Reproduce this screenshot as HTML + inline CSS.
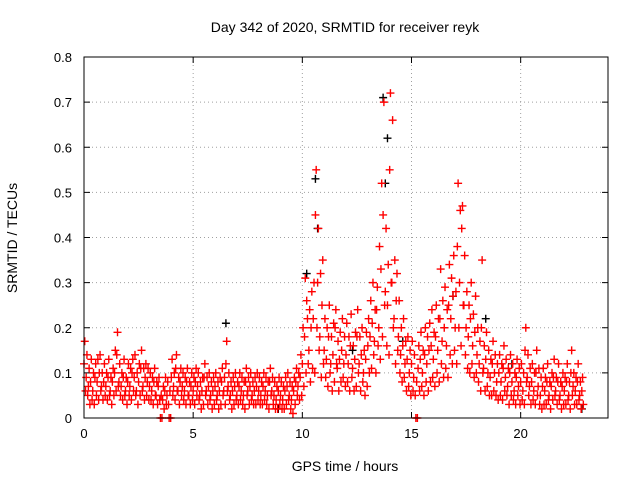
<!DOCTYPE html>
<html><head><meta charset="utf-8"><style>
body{margin:0;background:#fff}
svg{display:block;font-family:"Liberation Sans",sans-serif}
</style></head><body>
<svg id="chart" width="640" height="480">
<text x="345" y="32" font-size="14" text-anchor="middle">Day 342 of 2020, SRMTID for receiver reyk</text>
<text x="345" y="471" font-size="14" text-anchor="middle">GPS time / hours</text>
<text x="17" y="238" font-size="14" text-anchor="middle" transform="rotate(-90 17 238)">SRMTID / TECUs</text>
<g id="grid"></g>
<g id="ticks"></g>
<g id="black"></g>
<g id="red"></g>
<rect x="84" y="57" width="524" height="361" fill="none" stroke="#000" stroke-width="1"/>
</svg>
<script>
const xTicks=[0,5,10,15,20];
const yTicks=[0,0.1,0.2,0.3,0.4,0.5,0.6,0.7,0.8];
const yTickLabels=["0","0.1","0.2","0.3","0.4","0.5","0.6","0.7","0.8"];
const step=0.1;
const redMid=[.12,.09,.07,.08,.06,.09,.08,.10,.07,.08,
.07,.09,.06,.08,.10,.14,.08,.07,.09,.06,
.08,.07,.10,.09,.06,.08,.11,.07,.09,.08,
.07,.06,.08,.05,.07,0,.04,.06,.05,0,
.09,.07,.11,.06,.08,.07,.06,.08,.05,.07,
.06,.08,.07,.05,.06,.09,.06,.07,.05,.06,
.07,.05,.06,.08,.06,.12,.07,.05,.06,.07,
.05,.07,.06,.05,.08,.06,.07,.05,.06,.07,
.06,.05,.07,.06,.05,.08,.06,.05,.04,.06,
.05,.04,.06,.07,.05,.04,.06,.08,.07,.09,
.12,.18,.26,.15,.20,.22,.45,.30,.18,.25,
.15,.13,.18,.12,.14,.20,.11,.13,.15,.12,
.14,.12,.16,.11,.13,.18,.12,.14,.10,.13,
.16,.18,.21,.17,.24,.20,.33,.45,.28,.25,
.55,.30,.22,.26,.18,.14,.16,.12,.13,.10,
.12,.09,0,.11,.13,.10,.14,.12,.15,.16,
.13,.18,.15,.22,.17,.20,.16,.25,.22,.27,
.20,.38,.30,.42,.25,.20,.18,.22,.16,.19,
.14,.12,.20,.11,.13,.10,.09,.12,.10,.08,
.10,.08,.11,.09,.07,.10,.08,.06,.09,.07,
.08,.06,.15,.09,.07,.08,.06,.10,.07,.05,
.07,.06,.08,.05,.07,.09,.06,.08,.05,.07,
.06,.08,.05,.10,.07,.06,.08,.05,.06];
const redHigh=[.17,.14,.11,.13,.10,.12,.13,.14,.10,.12,
.10,.13,.09,.11,.15,.19,.12,.10,.13,.09,
.12,.11,.13,.14,.10,.12,.15,.11,.12,.11,
.10,.09,.11,.08,.09,.05,.07,.09,.08,.06,
.13,.10,.14,.09,.11,.10,.09,.11,.08,.10,
.09,.11,.10,.08,.09,.12,.09,.10,.08,.09,
.10,.08,.09,.11,.09,.17,.10,.08,.09,.10,
.08,.10,.09,.08,.11,.09,.10,.08,.09,.10,
.09,.08,.10,.09,.08,.11,.09,.08,.07,.09,
.08,.07,.09,.10,.08,.07,.09,.11,.10,.14,
.20,.31,.22,.24,.28,.30,.55,.42,.32,.35,
.22,.20,.25,.18,.21,.24,.17,.19,.22,.18,
.21,.18,.23,.16,.19,.24,.18,.20,.15,.19,
.22,.26,.30,.24,.29,.38,.52,.70,.42,.34,
.72,.66,.35,.32,.26,.20,.22,.17,.18,.15,
.17,.14,.08,.16,.19,.15,.20,.18,.21,.24,
.19,.25,.22,.33,.26,.29,.24,.34,.31,.36,
.28,.52,.46,.47,.36,.28,.25,.30,.23,.27,
.20,.17,.35,.16,.19,.15,.13,.17,.14,.12,
.14,.12,.16,.13,.11,.14,.12,.10,.13,.11,
.12,.10,.20,.14,.11,.12,.10,.15,.11,.09,
.11,.09,.12,.08,.10,.13,.09,.12,.08,.10,
.09,.12,.08,.15,.10,.09,.12,.08,.09];
const redLow=[.06,.05,.03,.04,.03,.05,.04,.06,.04,.05,
.04,.05,.03,.05,.06,.07,.05,.04,.05,.03,
.05,.04,.06,.05,.03,.05,.06,.04,.05,.04,
.04,.03,.05,.03,.04,0,.02,.03,.03,0,
.05,.04,.06,.03,.05,.04,.03,.05,.03,.04,
.03,.05,.04,.02,.03,.05,.03,.04,.02,.03,
.04,.02,.03,.05,.03,.06,.04,.02,.03,.04,
.03,.04,.03,.02,.05,.03,.04,.03,.03,.04,
.03,.03,.04,.03,.02,.05,.03,.02,.02,.03,
.02,.02,.03,.04,.02,.01,.03,.05,.04,.05,
.07,.10,.12,.08,.11,.10,.20,.15,.09,.12,
.09,.07,.10,.06,.08,.12,.06,.08,.09,.07,
.08,.06,.09,.06,.07,.10,.06,.08,.05,.07,
.10,.11,.14,.10,.16,.13,.18,.25,.16,.14,
.30,.20,.12,.15,.10,.08,.09,.06,.07,.05,
.06,.05,0,.06,.07,.05,.08,.06,.08,.09,
.07,.10,.08,.12,.09,.11,.09,.14,.12,.15,
.12,.20,.16,.25,.14,.11,.10,.12,.09,.10,
.08,.06,.10,.06,.07,.05,.05,.06,.05,.04,
.05,.04,.06,.05,.03,.05,.04,.03,.05,.03,
.04,.03,.08,.05,.03,.04,.03,.05,.03,.02,
.03,.03,.04,.02,.04,.05,.03,.04,.02,.03,
.03,.04,.02,.05,.03,.03,.04,.02,.03];
const blackT=[6.5,8.9,10.2,10.6,10.7,12.3,13.7,13.8,13.9,14.6,16.9,18.4,19.6,22.8];
const blackV=[.21,.02,.32,.53,.42,.15,.71,.52,.62,.17,.27,.22,.12,.02];

const NS="http://www.w3.org/2000/svg";
const X0=84,X1=608,Y0=418,Y1=57;
const xs=t=>X0+t/24*(X1-X0);
const ys=v=>Y0-v/0.8*(Y0-Y1);
function mk(tag,attrs,parent){const e=document.createElementNS(NS,tag);for(const k in attrs)e.setAttribute(k,attrs[k]);parent.appendChild(e);return e;}
const grid=document.getElementById('grid'),ticks=document.getElementById('ticks');
xTicks.forEach((t,i)=>{
  const x=xs(t);
  if(t>0){const g=mk('line',{x1:x,x2:x,y1:Y1,y2:Y0,stroke:'#a0a0a0','stroke-dasharray':'1,3'},grid);
  
  }
  const tx=mk('text',{x:x,y:Y0+20,'font-size':13,'text-anchor':'middle'},ticks);tx.textContent=String(t);
  
  
  mk('line',{x1:x,x2:x,y1:Y0,y2:Y0-6,stroke:'#000'},ticks);
  mk('line',{x1:x,x2:x,y1:Y1,y2:Y1+6,stroke:'#000'},ticks);
});
yTicks.forEach((v,i)=>{
  const y=ys(v);
  if(v>0&&v<0.8){const g=mk('line',{x1:X0,x2:X1,y1:y,y2:y,stroke:'#a0a0a0','stroke-dasharray':'1,3'},grid);
  
  }
  const tx=mk('text',{x:X0-12,y:y+5,'font-size':13,'text-anchor':'end'},ticks);tx.textContent=yTickLabels[i];
  
  
  mk('line',{x1:X0,x2:X0+6,y1:y,y2:y,stroke:'#000'},ticks);
  mk('line',{x1:X1,x2:X1-6,y1:y,y2:y,stroke:'#000'},ticks);
});
function plus(g,t,v,col){
  const x=xs(t),y=ys(v);
  const p=mk('path',{d:`M${x-4},${y}h8M${x},${y-4}v8`,stroke:col,'stroke-width':1.4,fill:'none'},g);
  
  
}
const bg=document.getElementById('black'),rg=document.getElementById('red');
blackT.forEach((t,i)=>plus(bg,t,blackV[i],'#000'));
redMid.forEach((v,i)=>plus(rg,i*step,v,'#ff0000'));
redHigh.forEach((v,i)=>plus(rg,i*step+0.035,v,'#ff0000'));
redLow.forEach((v,i)=>plus(rg,i*step+0.07,v,'#ff0000'));
</script>
</body></html>
